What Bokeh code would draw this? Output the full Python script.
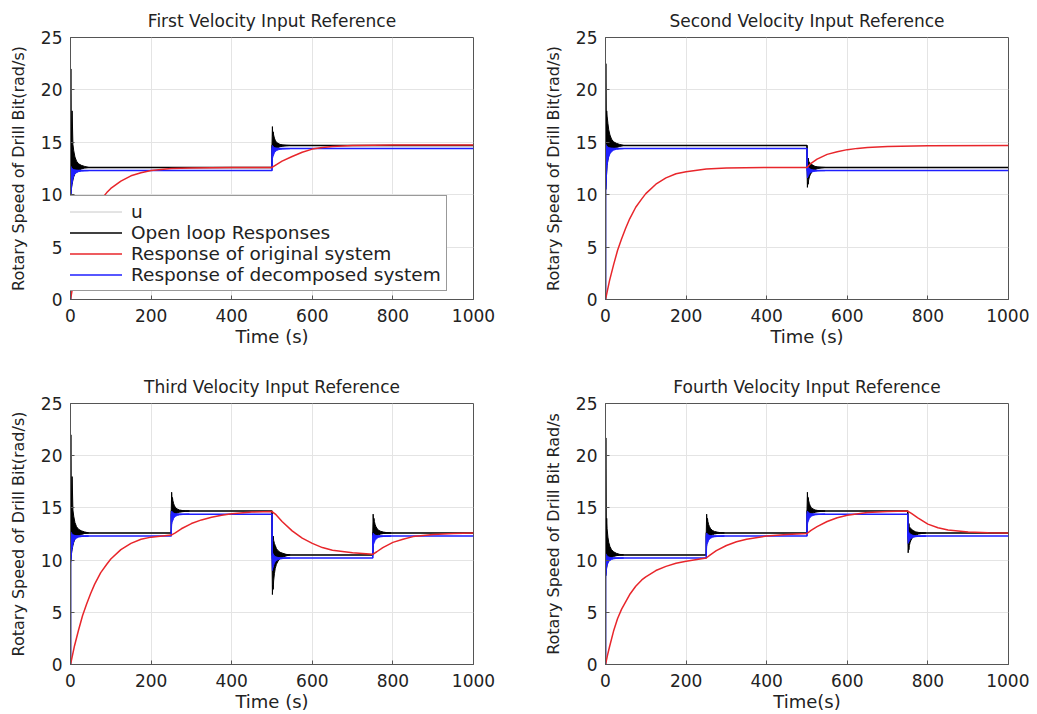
from bokeh.plotting import figure
from bokeh.layouts import column, row
from bokeh.models import Legend, LegendItem, Range1d, FixedTicker
from bokeh.embed import file_html
from bokeh.resources import INLINE

FONT = "DejaVu Sans"

titles = ["First Velocity Input Reference", "Second Velocity Input Reference",
          "Third Velocity Input Reference", "Fourth Velocity Input Reference"]
x_labels = ["Time (s)", "Time (s)", "Time (s)", "Time(s)"]
y_labels = ["Rotary Speed of Drill Bit(rad/s)", "Rotary Speed of Drill Bit(rad/s)",
            "Rotary Speed of Drill Bit(rad/s)", "Rotary Speed of Drill Bit Rad/s"]
x_ticks = [0, 200, 400, 600, 800, 1000]
y_ticks = [0, 5, 10, 15, 20, 25]
legend_labels = ["u", "Open loop Responses", "Response of original system",
                 "Response of decomposed system"]

# step schedules (switch times) and steady levels
times_1 = [0, 500, 1000]
open_1 = [12.6, 14.7]
decomp_1 = [12.3, 14.4]
times_2 = [0, 500, 1000]
open_2 = [14.7, 12.6]
decomp_2 = [14.4, 12.3]
times_3 = [0, 250, 500, 750, 1000]
open_3 = [12.6, 14.7, 10.5, 12.6]
decomp_3 = [12.3, 14.4, 10.2, 12.3]
times_4 = [0, 250, 500, 750, 1000]
open_4 = [10.5, 12.6, 14.7, 12.6]
decomp_4 = [10.2, 12.3, 14.4, 12.3]

# response of original system
red_t_1 = [0, 5, 10, 20, 30, 40, 50, 60, 75, 90, 100, 125, 150, 175, 200, 250, 300, 400, 500,
           510, 525, 550, 575, 600, 625, 650, 700, 800, 1000]
red_v_1 = [0, 1.1, 2.1, 3.8, 5.3, 6.5, 7.5, 8.4, 9.5, 10.2, 10.6, 11.3, 11.8, 12.1, 12.3, 12.5, 12.55, 12.6, 12.6,
           12.85, 13.2, 13.65, 14.05, 14.35, 14.5, 14.6, 14.7, 14.75, 14.75]
red_t_2 = [0, 5, 10, 20, 30, 40, 50, 60, 75, 90, 100, 125, 150, 175, 200, 250, 300, 400, 500,
           510, 525, 550, 575, 600, 625, 650, 700, 800, 1000]
red_v_2 = [0, 0.9, 1.8, 3.3, 4.7, 5.8, 6.8, 7.7, 8.8, 9.6, 10.1, 11.0, 11.6, 12.0, 12.2, 12.45, 12.55, 12.6, 12.6,
           13.0, 13.4, 13.85, 14.1, 14.3, 14.42, 14.5, 14.6, 14.68, 14.7]
red_t_3 = [0, 5, 10, 20, 30, 40, 50, 60, 75, 90, 100, 125, 150, 175, 200, 250,
           260, 275, 300, 325, 350, 375, 400, 450, 500,
           510, 525, 550, 575, 600, 625, 650, 700, 750,
           760, 775, 800, 825, 850, 900, 950, 1000]
red_v_3 = [0, 0.9, 1.8, 3.3, 4.7, 5.8, 6.8, 7.7, 8.8, 9.6, 10.1, 11.0, 11.6, 12.0, 12.2, 12.4,
           12.6, 13.0, 13.5, 13.85, 14.1, 14.3, 14.45, 14.6, 14.65,
           14.35, 13.7, 12.8, 12.1, 11.6, 11.2, 10.95, 10.7, 10.55,
           10.8, 11.2, 11.7, 12.0, 12.25, 12.45, 12.55, 12.6]
red_t_4 = [0, 5, 10, 20, 30, 40, 50, 60, 75, 90, 100, 125, 150, 175, 200, 250,
           260, 275, 300, 325, 350, 400, 450, 500,
           510, 525, 550, 575, 600, 650, 700, 750,
           760, 775, 800, 825, 850, 900, 950, 1000]
red_v_4 = [0, 0.9, 1.7, 3.2, 4.4, 5.3, 6.0, 6.7, 7.5, 8.1, 8.4, 9.0, 9.4, 9.7, 9.9, 10.2,
           10.5, 10.9, 11.4, 11.75, 12.0, 12.3, 12.45, 12.55,
           12.85, 13.2, 13.7, 14.05, 14.3, 14.55, 14.65, 14.7,
           14.45, 14.05, 13.45, 13.1, 12.88, 12.7, 12.63, 12.6]

# oscillation envelopes of the responses after each switch (time after switch)
ring_dt = [0, 1, 2, 3, 4, 6, 8, 11, 15, 20, 27, 35, 45]
# open loop, start-up
black_start_126_up = [12.6, 22.0, 15.0, 16.5, 18.0, 14.8, 14.2, 13.6, 13.2, 12.95, 12.8, 12.7, 12.6]
black_start_126_lo = [10.0, 10.0, 10.5, 10.8, 11.0, 11.4, 11.7, 12.0, 12.2, 12.35, 12.45, 12.55, 12.6]
black_start_147_up = [14.7, 22.5, 17.0, 18.0, 17.5, 16.8, 16.2, 15.7, 15.3, 15.05, 14.9, 14.8, 14.7]
black_start_147_lo = [10.5, 10.5, 11.5, 12.2, 12.8, 13.3, 13.7, 14.0, 14.2, 14.4, 14.5, 14.6, 14.7]
black_start_105_up = [10.5, 21.7, 13.0, 14.0, 13.0, 12.2, 11.7, 11.3, 11.0, 10.8, 10.65, 10.55, 10.5]
black_start_105_lo = [8.5, 8.5, 9.0, 9.3, 9.5, 9.8, 10.0, 10.15, 10.25, 10.35, 10.42, 10.47, 10.5]
# open loop, switching
black_126_147_up = [14.7, 16.5, 15.6, 16.0, 15.7, 15.4, 15.2, 15.0, 14.9, 14.8, 14.75, 14.72, 14.7]
black_126_147_lo = [12.6, 13.6, 13.8, 13.9, 14.0, 14.2, 14.3, 14.45, 14.5, 14.58, 14.63, 14.67, 14.7]
black_105_126_up = [12.6, 14.4, 13.6, 14.0, 13.7, 13.4, 13.2, 13.0, 12.85, 12.75, 12.68, 12.63, 12.6]
black_105_126_lo = [10.5, 11.5, 11.7, 11.8, 11.9, 12.1, 12.2, 12.35, 12.42, 12.5, 12.55, 12.58, 12.6]
black_147_126_up = [14.7, 13.4, 13.3, 13.5, 13.2, 13.1, 13.0, 12.9, 12.8, 12.7, 12.65, 12.62, 12.6]
black_147_126_lo = [12.6, 10.7, 11.2, 11.0, 11.4, 11.7, 11.9, 12.1, 12.3, 12.4, 12.5, 12.55, 12.6]
black_147_105_up = [14.7, 12.5, 12.0, 12.3, 11.9, 11.6, 11.4, 11.1, 10.9, 10.75, 10.65, 10.55, 10.5]
black_147_105_lo = [10.5, 6.7, 7.6, 7.2, 8.0, 8.7, 9.2, 9.6, 9.9, 10.15, 10.3, 10.4, 10.5]
# decomposed system
blue_start_123_up = [12.3, 12.7, 12.6, 12.55, 12.5, 12.45, 12.4, 12.36, 12.33, 12.31, 12.3, 12.3, 12.3]
blue_start_123_lo = [9.8, 9.8, 10.4, 10.8, 11.1, 11.5, 11.8, 12.0, 12.1, 12.2, 12.25, 12.28, 12.3]
blue_start_144_up = [14.4, 14.8, 14.7, 14.65, 14.6, 14.55, 14.5, 14.46, 14.43, 14.41, 14.4, 14.4, 14.4]
blue_start_144_lo = [10.5, 10.5, 11.5, 12.2, 12.8, 13.3, 13.6, 13.9, 14.1, 14.25, 14.33, 14.37, 14.4]
blue_start_102_up = [10.2, 10.6, 10.5, 10.45, 10.4, 10.35, 10.3, 10.26, 10.23, 10.21, 10.2, 10.2, 10.2]
blue_start_102_lo = [8.5, 8.5, 9.0, 9.3, 9.5, 9.7, 9.85, 9.97, 10.05, 10.12, 10.16, 10.18, 10.2]
blue_123_144_up = [14.4, 14.7, 14.65, 14.6, 14.55, 14.5, 14.47, 14.44, 14.42, 14.41, 14.4, 14.4, 14.4]
blue_123_144_lo = [12.3, 13.4, 13.6, 13.7, 13.8, 14.0, 14.1, 14.2, 14.28, 14.33, 14.36, 14.38, 14.4]
blue_102_123_up = [12.3, 12.6, 12.55, 12.5, 12.45, 12.4, 12.37, 12.34, 12.32, 12.31, 12.3, 12.3, 12.3]
blue_102_123_lo = [10.2, 11.3, 11.5, 11.6, 11.7, 11.9, 12.0, 12.1, 12.18, 12.23, 12.26, 12.28, 12.3]
blue_144_123_up = [14.4, 12.8, 12.7, 12.65, 12.6, 12.5, 12.45, 12.4, 12.36, 12.33, 12.31, 12.3, 12.3]
blue_144_123_lo = [12.3, 11.6, 11.8, 11.75, 11.85, 12.0, 12.08, 12.15, 12.2, 12.24, 12.27, 12.29, 12.3]
blue_144_102_up = [14.4, 10.8, 10.6, 10.6, 10.5, 10.4, 10.35, 10.3, 10.25, 10.22, 10.21, 10.2, 10.2]
blue_144_102_lo = [10.2, 9.0, 9.3, 9.3, 9.5, 9.7, 9.85, 9.95, 10.05, 10.1, 10.15, 10.18, 10.2]

black_events_1 = [(0, black_start_126_up, black_start_126_lo), (500, black_126_147_up, black_126_147_lo)]
blue_events_1 = [(0, blue_start_123_up, blue_start_123_lo), (500, blue_123_144_up, blue_123_144_lo)]
black_events_2 = [(0, black_start_147_up, black_start_147_lo), (500, black_147_126_up, black_147_126_lo)]
blue_events_2 = [(0, blue_start_144_up, blue_start_144_lo), (500, blue_144_123_up, blue_144_123_lo)]
black_events_3 = [(0, black_start_126_up, black_start_126_lo), (250, black_126_147_up, black_126_147_lo),
                  (500, black_147_105_up, black_147_105_lo), (750, black_105_126_up, black_105_126_lo)]
blue_events_3 = [(0, blue_start_123_up, blue_start_123_lo), (250, blue_123_144_up, blue_123_144_lo),
                 (500, blue_144_102_up, blue_144_102_lo), (750, blue_102_123_up, blue_102_123_lo)]
black_events_4 = [(0, black_start_105_up, black_start_105_lo), (250, black_105_126_up, black_105_126_lo),
                  (500, black_126_147_up, black_126_147_lo), (750, black_147_126_up, black_147_126_lo)]
blue_events_4 = [(0, blue_start_102_up, blue_start_102_lo), (250, blue_102_123_up, blue_102_123_lo),
                 (500, blue_123_144_up, blue_123_144_lo), (750, blue_144_123_up, blue_144_123_lo)]

plots_data = [
    (times_1, open_1, decomp_1, red_t_1, red_v_1, black_events_1, blue_events_1),
    (times_2, open_2, decomp_2, red_t_2, red_v_2, black_events_2, blue_events_2),
    (times_3, open_3, decomp_3, red_t_3, red_v_3, black_events_3, blue_events_3),
    (times_4, open_4, decomp_4, red_t_4, red_v_4, black_events_4, blue_events_4),
]

RED = "#e8262b"
BLUE = "#1f1fff"
BLACK = "#000000"
UGRAY = "#c8c8c8"


def step_path(times, levels):
    xs, ys = [times[0]], [0.0]
    for i, lv in enumerate(levels):
        xs += [times[i], times[i + 1]]
        ys += [lv, lv]
    return xs, ys


def make_fig(i, borders, fh, legend=False):
    bl, br, bt, bb = borders
    times, opn, dec, rt, rv, bev, uev = plots_data[i]
    p = figure(frame_width=403, frame_height=fh, x_range=Range1d(0, 1000), y_range=Range1d(0, 25),
               output_backend="svg", toolbar_location=None,
               min_border_left=bl, min_border_right=br, min_border_top=bt, min_border_bottom=bb)
    p.title.text = titles[i]
    p.title.align = "center"
    p.title.text_font = FONT
    p.title.text_font_size = "17px"
    p.title.text_font_style = "normal"
    p.title.text_color = "#222222"
    p.title.standoff = 13
    p.xaxis.axis_label = x_labels[i]
    p.yaxis.axis_label = y_labels[i]
    for ax in (p.xaxis[0], p.yaxis[0]):
        ax.axis_label_text_font = FONT
        ax.axis_label_text_font_style = "normal"
        ax.axis_label_text_color = "#222222"
        ax.major_label_text_font = FONT
        ax.major_label_text_font_size = "17px"
        ax.major_label_text_color = "#222222"
        ax.axis_line_color = "#555555"
        ax.major_tick_line_color = "#555555"
        ax.major_tick_in = 4
        ax.major_tick_out = 0
        ax.minor_tick_line_color = None
    p.xaxis.major_label_standoff = 9
    p.yaxis.major_label_standoff = 8
    p.xaxis.axis_label_text_font_size = "18px"
    p.yaxis.axis_label_text_font_size = "16px"
    p.xaxis.axis_label_standoff = 1
    p.yaxis.axis_label_standoff = 10
    p.xaxis.ticker = FixedTicker(ticks=x_ticks)
    p.yaxis.ticker = FixedTicker(ticks=y_ticks)
    p.xgrid.ticker = FixedTicker(ticks=x_ticks)
    p.ygrid.ticker = FixedTicker(ticks=y_ticks)
    p.grid.grid_line_color = "#e4e4e4"
    p.grid.grid_line_width = 1
    p.outline_line_color = "#555555"
    p.outline_line_alpha = 1
    p.background_fill_color = "white"
    p.border_fill_color = "white"

    ux, uy = step_path(times, opn)
    r_u = p.line(ux, uy, line_color=UGRAY, line_width=1)
    # open loop
    for t0, up, lo in bev:
        xs = [t0 + d for d in ring_dt]
        p.varea(x=xs, y1=lo, y2=up, fill_color=BLACK)
        p.line(xs, up, line_color=BLACK, line_width=1)
        p.line(xs, lo, line_color=BLACK, line_width=1)
    bx, by = step_path(times, opn)
    r_b = p.line(bx, by, line_color=BLACK, line_width=1.5)
    # decomposed
    for t0, up, lo in uev:
        xs = [t0 + d for d in ring_dt]
        p.varea(x=xs, y1=lo, y2=up, fill_color=BLUE)
        p.line(xs, up, line_color=BLUE, line_width=1)
        p.line(xs, lo, line_color=BLUE, line_width=1)
    dx, dy = step_path(times, dec)
    r_d = p.line(dx, dy, line_color=BLUE, line_width=1.5)
    # original
    r_r = p.line(rt, rv, line_color=RED, line_width=1.5)

    if legend:
        leg = Legend(items=[LegendItem(label=legend_labels[0], renderers=[r_u]),
                            LegendItem(label=legend_labels[1], renderers=[r_b]),
                            LegendItem(label=legend_labels[2], renderers=[r_r]),
                            LegendItem(label=legend_labels[3], renderers=[r_d])],
                     location=(-17, 8))
        leg.label_text_font = FONT
        leg.label_text_font_size = "18.5px"
        leg.label_text_color = "#222222"
        leg.label_height = 21
        leg.glyph_height = 21
        leg.glyph_width = 63
        leg.label_standoff = 9
        leg.spacing = 0
        leg.padding = 5
        leg.margin = 0
        leg.border_line_color = "#333333"
        leg.border_line_width = 1.2
        leg.background_fill_color = "white"
        leg.background_fill_alpha = 1
        p.add_layout(leg, "center")
    return p


p1 = make_fig(0, (70, 55, 37, 69), 262, legend=True)
p2 = make_fig(1, (77, 21, 37, 69), 262)
p3 = make_fig(2, (70, 55, 35, 42), 261)
p4 = make_fig(3, (77, 21, 35, 42), 261)

layout = column(row(p1, p2), row(p3, p4))
open("out.html", "w").write(file_html(layout, INLINE))
